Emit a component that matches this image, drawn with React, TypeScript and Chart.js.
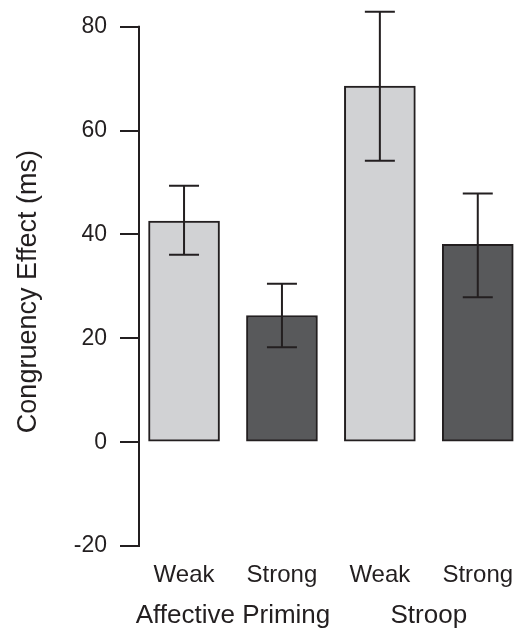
import { useEffect, useRef } from "react";
import { Chart, registerables } from "chart.js";

Chart.register(...registerables);

// ---- data ----
const conditions = ["Weak", "Strong", "Weak", "Strong"];
const tasks = ["Affective Priming", "Stroop"];
const congruencyEffect = [42.6, 24.4, 68.6, 38.1];
const errorLow = [36.1, 18.3, 54.2, 27.9];
const errorHigh = [49.4, 30.5, 82.9, 47.9];
const yTicks = [-20, 0, 20, 40, 60, 80];
const barColors = ["#d1d2d4", "#58595b", "#d1d2d4", "#58595b"];

const INK = "#231f20";
const FONT = "'Liberation Sans', Arial, Helvetica, sans-serif";

const errorBarPlugin = {
  id: "errorBarsAndAxis",
  afterDatasetsDraw(chart: any) {
    const { ctx, scales } = chart;
    const x = scales.x;
    const y = scales.y;
    ctx.save();
    ctx.strokeStyle = INK;
    ctx.lineWidth = 2;
    // y axis line from lowest to highest tick only
    const ax = chart.chartArea.left;
    ctx.beginPath();
    ctx.moveTo(ax, y.getPixelForValue(yTicks[yTicks.length - 1]) - 1);
    ctx.lineTo(ax, y.getPixelForValue(yTicks[0]) + 1);
    ctx.stroke();
    // error bars
    congruencyEffect.forEach((_, i) => {
      const cx = x.getPixelForValue(i);
      const top = y.getPixelForValue(errorHigh[i]);
      const bot = y.getPixelForValue(errorLow[i]);
      const half = 15;
      ctx.beginPath();
      ctx.moveTo(cx, top);
      ctx.lineTo(cx, bot);
      ctx.moveTo(cx - half, top);
      ctx.lineTo(cx + half, top);
      ctx.moveTo(cx - half, bot);
      ctx.lineTo(cx + half, bot);
      ctx.stroke();
    });
    ctx.restore();
  },
};

export default function App() {
  const ref = useRef<HTMLCanvasElement | null>(null);

  useEffect(() => {
    if (!ref.current) return;
    const chart = new Chart(ref.current, {
      type: "bar",
      data: {
        datasets: [
          {
            data: congruencyEffect.map((v, i) => ({ x: i, y: v })),
            backgroundColor: barColors,
            borderColor: INK,
            borderWidth: 2,
            borderSkipped: false,
            barThickness: 71,
          } as any,
        ],
      },
      plugins: [errorBarPlugin],
      options: {
        responsive: false,
        animation: false,
        layout: { padding: { top: 26, left: 0, right: 0, bottom: 0 } },
        plugins: {
          legend: { display: false },
          tooltip: { enabled: false },
        },
        scales: {
          x: {
            type: "linear",
            position: "bottom",
            offset: false,
            min: -0.46,
            max: 3.37,
            grid: { display: false, offset: false },
            border: { display: false },
            afterBuildTicks: (s: any) => {
              s.ticks = conditions.map((_, i) => ({ value: i }));
            },
            afterFit: (s: any) => {
              s.height = 38;
              s.paddingLeft = 0;
              s.paddingRight = 0;
            },
            ticks: {
              autoSkip: false,
              maxRotation: 0,
              padding: -3,
              color: INK,
              font: { family: FONT, size: 24 },
              callback: (v: any) => conditions[Math.round(Number(v))] ?? "",
            },
          },
          x2: {
            type: "linear",
            position: "bottom",
            offset: false,
            min: -0.46,
            max: 3.37,
            grid: { display: false, offset: false },
            border: { display: false },
            afterBuildTicks: (s: any) => {
              s.ticks = tasks.map((_, g) => ({ value: g * 2 + 0.5 }));
            },
            afterFit: (s: any) => {
              s.height = 36.6;
              s.paddingLeft = 0;
              s.paddingRight = 0;
            },
            ticks: {
              autoSkip: false,
              maxRotation: 0,
              padding: -2,
              color: INK,
              font: { family: FONT, size: 26 },
              callback: (v: any) => tasks[Math.round((Number(v) - 0.5) / 2)] ?? "",
            },
          },
          y: {
            type: "linear",
            position: "left",
            min: -22,
            max: 80,
            afterBuildTicks: (s: any) => {
              s.ticks = yTicks.map((v) => ({ value: v }));
            },
            afterFit: (s: any) => {
              s.width = 139;
            },
            grid: {
              drawOnChartArea: false,
              drawTicks: true,
              tickLength: 19,
              color: INK,
              lineWidth: 2,
            },
            border: { display: false },
            ticks: {
              padding: 13,
              color: INK,
              font: { family: FONT, size: 23 },
            },
            title: {
              display: true,
              text: "Congruency Effect (ms)",
              color: INK,
              font: { family: FONT, size: 27 },
              padding: { top: 12, bottom: 0 },
            },
          },
        },
      } as any,
    });
    return () => chart.destroy();
  }, []);

  return (
    <div style={{ position: "fixed", left: 0, top: 0, width: 514, height: 631, background: "#fff" }}>
      <canvas ref={ref} width={514} height={631} />
    </div>
  );
}
